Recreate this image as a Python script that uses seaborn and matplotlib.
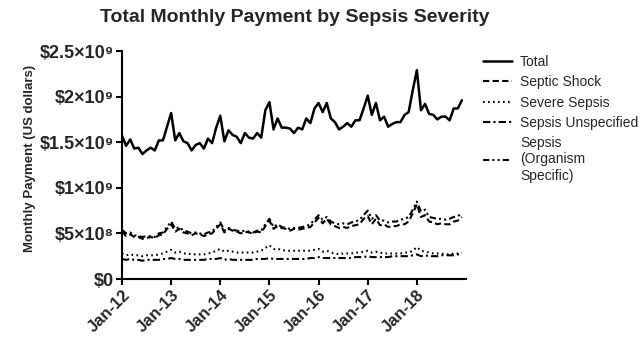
import numpy as np
import pandas as pd
import seaborn as sns
import matplotlib.pyplot as plt

# == Data (US dollars, in billions) == #

months = list(range(84))  # Jan-12 ... Dec-18

total = [1.57, 1.46, 1.53, 1.43, 1.44, 1.37, 1.41, 1.44, 1.41, 1.52, 1.52, 1.67,
         1.82, 1.52, 1.60, 1.51, 1.49, 1.41, 1.47, 1.49, 1.43, 1.54, 1.49, 1.66,
         1.79, 1.51, 1.63, 1.58, 1.56, 1.49, 1.60, 1.55, 1.54, 1.60, 1.55, 1.85,
         1.94, 1.64, 1.76, 1.66, 1.66, 1.65, 1.60, 1.66, 1.64, 1.76, 1.71, 1.87,
         1.93, 1.83, 1.93, 1.76, 1.72, 1.64, 1.67, 1.71, 1.67, 1.74, 1.74, 1.87,
         2.01, 1.80, 1.93, 1.74, 1.78, 1.67, 1.70, 1.72, 1.72, 1.80, 1.83, 2.07,
         2.29, 1.85, 1.92, 1.81, 1.80, 1.75, 1.78, 1.78, 1.74, 1.87, 1.87, 1.96]

septic_shock = [0.52, 0.47, 0.49, 0.46, 0.46, 0.44, 0.45, 0.46, 0.45, 0.48, 0.49, 0.55,
                0.60, 0.52, 0.55, 0.51, 0.50, 0.48, 0.50, 0.49, 0.47, 0.49, 0.50, 0.55,
                0.60, 0.51, 0.55, 0.53, 0.52, 0.50, 0.52, 0.51, 0.50, 0.52, 0.51, 0.58,
                0.64, 0.55, 0.58, 0.56, 0.55, 0.53, 0.55, 0.54, 0.55, 0.56, 0.57, 0.62,
                0.67, 0.61, 0.66, 0.60, 0.58, 0.56, 0.57, 0.56, 0.58, 0.59, 0.60, 0.66,
                0.69, 0.60, 0.66, 0.59, 0.60, 0.57, 0.58, 0.58, 0.60, 0.60, 0.63, 0.72,
                0.82, 0.68, 0.70, 0.63, 0.62, 0.60, 0.61, 0.60, 0.60, 0.63, 0.64, 0.68]

severe_sepsis = [0.28, 0.26, 0.27, 0.26, 0.26, 0.25, 0.26, 0.26, 0.26, 0.27, 0.28, 0.30,
                 0.32, 0.29, 0.30, 0.28, 0.28, 0.27, 0.27, 0.27, 0.27, 0.28, 0.29, 0.31,
                 0.33, 0.30, 0.31, 0.30, 0.29, 0.29, 0.29, 0.29, 0.29, 0.30, 0.31, 0.34,
                 0.37, 0.33, 0.33, 0.32, 0.31, 0.31, 0.31, 0.31, 0.31, 0.31, 0.31, 0.32,
                 0.33, 0.30, 0.31, 0.29, 0.28, 0.27, 0.28, 0.28, 0.28, 0.29, 0.29, 0.30,
                 0.31, 0.29, 0.30, 0.29, 0.28, 0.28, 0.28, 0.28, 0.28, 0.29, 0.29, 0.31,
                 0.35, 0.31, 0.30, 0.29, 0.28, 0.28, 0.28, 0.27, 0.27, 0.28, 0.28, 0.29]

sepsis_unspecified = [0.22, 0.21, 0.22, 0.21, 0.21, 0.20, 0.21, 0.21, 0.21, 0.21, 0.22, 0.22,
                      0.23, 0.22, 0.22, 0.21, 0.21, 0.21, 0.21, 0.21, 0.21, 0.22, 0.22, 0.22,
                      0.23, 0.21, 0.22, 0.21, 0.21, 0.21, 0.21, 0.21, 0.21, 0.22, 0.22, 0.22,
                      0.23, 0.22, 0.22, 0.22, 0.22, 0.22, 0.22, 0.22, 0.22, 0.22, 0.23, 0.23,
                      0.24, 0.23, 0.23, 0.23, 0.23, 0.23, 0.23, 0.23, 0.23, 0.24, 0.24, 0.24,
                      0.25, 0.24, 0.24, 0.24, 0.24, 0.24, 0.25, 0.25, 0.25, 0.25, 0.25, 0.26,
                      0.27, 0.25, 0.26, 0.25, 0.25, 0.25, 0.26, 0.26, 0.26, 0.26, 0.27, 0.27]

organism_specific = [0.54, 0.50, 0.51, 0.48, 0.47, 0.46, 0.47, 0.47, 0.46, 0.50, 0.51, 0.57,
                     0.63, 0.55, 0.57, 0.53, 0.52, 0.50, 0.51, 0.50, 0.49, 0.51, 0.52, 0.57,
                     0.62, 0.53, 0.56, 0.54, 0.53, 0.52, 0.53, 0.52, 0.51, 0.53, 0.53, 0.60,
                     0.66, 0.57, 0.60, 0.57, 0.56, 0.55, 0.56, 0.56, 0.57, 0.58, 0.60, 0.65,
                     0.70, 0.65, 0.68, 0.63, 0.61, 0.60, 0.61, 0.60, 0.62, 0.63, 0.65, 0.70,
                     0.75, 0.66, 0.70, 0.64, 0.64, 0.62, 0.63, 0.63, 0.65, 0.66, 0.68, 0.76,
                     0.85, 0.74, 0.76, 0.68, 0.67, 0.66, 0.66, 0.65, 0.66, 0.68, 0.69, 0.72]

series_names = ['Total', 'Septic Shock', 'Severe Sepsis', 'Sepsis Unspecified',
                'Sepsis\n(Organism\nSpecific)']

x_tick_pos = [0, 12, 24, 36, 48, 60, 72]
x_tick_labels = ['Jan-12', 'Jan-13', 'Jan-14', 'Jan-15', 'Jan-16', 'Jan-17', 'Jan-18']
y_tick_pos = [0, 0.5e9, 1.0e9, 1.5e9, 2.0e9, 2.5e9]
y_tick_labels = ['$0', '$5×10⁸', '$1×10⁹', '$1.5×10⁹', '$2×10⁹', '$2.5×10⁹']

# == Long form frame for seaborn == #

frames = []
for name, vals in zip(series_names, [total, septic_shock, severe_sepsis,
                                     sepsis_unspecified, organism_specific]):
    frames.append(pd.DataFrame({'Month': months,
                                'Payment': np.array(vals) * 1e9,
                                'Series': name}))
df = pd.concat(frames, ignore_index=True)

sns.set_style('ticks')
plt.rcParams['font.family'] = ['Liberation Sans', 'DejaVu Sans']

fig = plt.figure(figsize=(6.41, 3.51), dpi=100)
ax = fig.add_axes([122 / 641, 72 / 351, 344 / 641, 228 / 351])

dash_map = {
    'Total': '',
    'Septic Shock': (3, 1.6),
    'Severe Sepsis': (0.8, 1.6),
    'Sepsis Unspecified': (3.5, 1.5, 1, 1.5),
    'Sepsis\n(Organism\nSpecific)': (3, 1.5, 1, 1.5, 1, 1.5),
}
sns.lineplot(data=df, x='Month', y='Payment', hue='Series', style='Series',
             palette=['black'] * 5, dashes=dash_map, ax=ax, linewidth=1.5)
ax.lines[0].set_linewidth(1.8)

ax.set_xlim(0, 84)
ax.set_ylim(0, 2.5e9)
ax.set_xticks(x_tick_pos)
ax.set_xticklabels(x_tick_labels, rotation=45, ha='right', rotation_mode='anchor',
                   fontsize=12, fontweight='bold')
ax.set_yticks(y_tick_pos)
ax.set_yticklabels(y_tick_labels, fontsize=13, fontweight='bold')
ax.tick_params(axis='both', length=4, width=1.5, color='black', pad=2)
ax.set_xlabel('')
ax.set_ylabel('Monthly Payment (US dollars)', fontsize=9.5, fontweight='bold')
ax.yaxis.set_label_coords(-0.25, 0.53)
sns.despine(ax=ax)
for s in ['left', 'bottom']:
    ax.spines[s].set_linewidth(1.5)
    ax.spines[s].set_color('black')

handles, labels = ax.get_legend_handles_labels()
handles[0].set_linewidth(1.8)
ax.legend(handles, labels, loc='upper left', bbox_to_anchor=(1.05, 0.982),
          frameon=False, fontsize=10, handlelength=2.1, handletextpad=0.55,
          labelspacing=0.45, borderpad=0, borderaxespad=0)

fig.text(295 / 641, 1 - 17 / 351, 'Total Monthly Payment by Sepsis Severity',
         ha='center', va='center', fontsize=14, fontweight='bold')

fig.savefig('out.png', dpi=100)
